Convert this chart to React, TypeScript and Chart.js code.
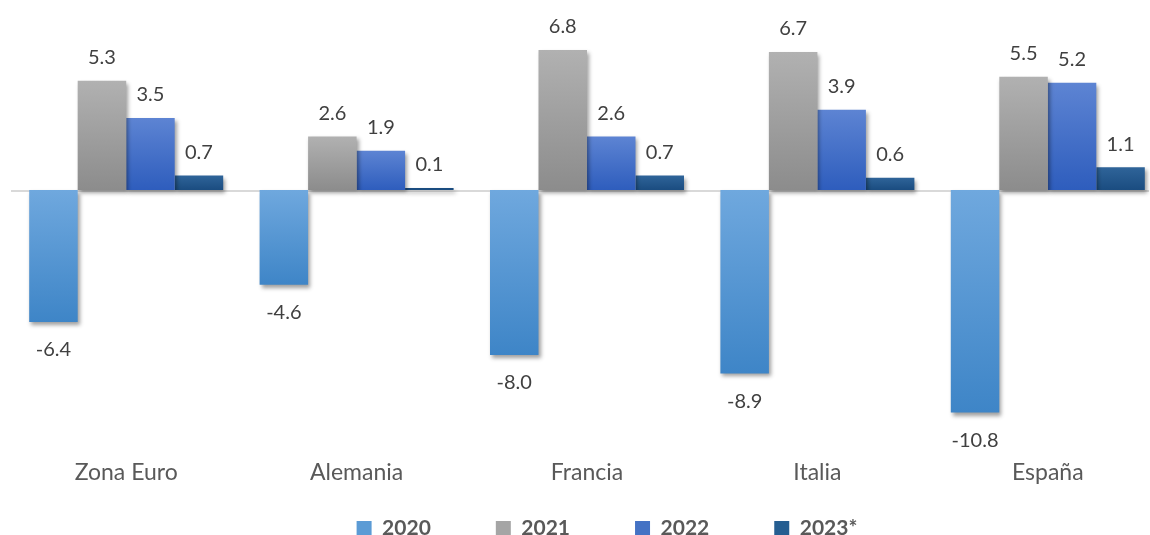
import React, { useEffect, useRef } from 'react';
import { Chart, registerables } from 'chart.js';

Chart.register(...registerables);

// ---- data ----
const categories = ['Zona Euro', 'Alemania', 'Francia', 'Italia', 'España'];
const seriesNames = ['2020', '2021', '2022', '2023*'];
const values2020 = [-6.4, -4.6, -8.0, -8.9, -10.8];
const values2021 = [5.3, 2.6, 6.8, 6.7, 5.5];
const values2022 = [3.5, 1.9, 2.6, 3.9, 5.2];
const values2023 = [0.7, 0.1, 0.7, 0.6, 1.1];
const seriesValues = [values2020, values2021, values2022, values2023];

// ---- styles ----
const legendColors = ['#5B9BD5', '#A5A5A5', '#4472C4', '#255E91'];
const gradTops = ['#6fa8de', '#b1b1b1', '#5d84d3', '#2f6499'];
const gradBottoms = ['#3e85c7', '#8c8c8c', '#2e5dbd', '#1a4c80'];

const CANVAS_W = 1203;
const CANVAS_H = 587;

function gradientFill(idx: number) {
  return (ctx: any) => {
    if (ctx.type !== 'data') return legendColors[idx];
    const chart = ctx.chart;
    const yScale = chart.scales && chart.scales.y;
    if (!chart.chartArea || !yScale) return legendColors[idx];
    const v = ctx.raw as number;
    const y0 = yScale.getPixelForValue(0);
    const y1 = yScale.getPixelForValue(v);
    const t = Math.min(y0, y1);
    const b = Math.max(y0, y1);
    if (b - t < 3) return gradBottoms[idx];
    const g = chart.ctx.createLinearGradient(0, t, 0, b);
    g.addColorStop(0, gradTops[idx]);
    g.addColorStop(1, gradBottoms[idx]);
    return g;
  };
}

const decorPlugin = {
  id: 'decor',
  afterLayout(chart: any) {
    // pull the legend up so it sits just under the category labels
    const lg = chart.legend;
    if (lg) {
      const h = lg.height;
      lg.top = chart.chartArea.bottom + 7;
      lg.bottom = lg.top + h;
    }
  },
  beforeDatasetsDraw(chart: any) {
    const { ctx, chartArea } = chart;
    const y0 = chart.scales.y.getPixelForValue(0);
    ctx.save();
    ctx.strokeStyle = '#d9d9d9';
    ctx.lineWidth = 2;
    ctx.beginPath();
    ctx.moveTo(chartArea.left, y0 + 1);
    ctx.lineTo(chartArea.right - 14, y0 + 1);
    ctx.stroke();
    ctx.restore();
    ctx.save();
    ctx.shadowColor = 'rgba(0,0,0,0.38)';
    ctx.shadowBlur = 4;
    ctx.shadowOffsetX = 2;
    ctx.shadowOffsetY = 3;
  },
  afterDatasetsDraw(chart: any) {
    const { ctx } = chart;
    ctx.restore();
    ctx.save();
    ctx.shadowColor = 'rgba(0,0,0,0)';
    ctx.font = '20px Lato';
    ctx.fillStyle = '#404040';
    ctx.textAlign = 'center';
    ctx.textBaseline = 'alphabetic';
    chart.data.datasets.forEach((ds: any, di: number) => {
      const meta = chart.getDatasetMeta(di);
      meta.data.forEach((bar: any, i: number) => {
        const v = ds.data[i] as number;
        const y = v >= 0 ? bar.y - 16.7 : bar.y + 34.5;
        ctx.fillText(v.toFixed(1), bar.x, y);
      });
    });
    ctx.restore();
  },
};

export default function App() {
  const ref = useRef<HTMLCanvasElement | null>(null);

  useEffect(() => {
    let chart: Chart | null = null;
    let cancelled = false;
    const make = () => {
      if (cancelled || !ref.current) return;
      chart = new Chart(ref.current, {
        type: 'bar',
        data: {
          labels: categories,
          datasets: seriesNames.map((name, i) => ({
            label: name,
            data: seriesValues[i],
            backgroundColor: gradientFill(i) as any,
            borderWidth: 0,
            barPercentage: 1,
            categoryPercentage: 0.842,
          })),
        },
        options: {
          responsive: false,
          animation: false,
          devicePixelRatio: 1,
          layout: { padding: { left: 11, right: 0, top: 0, bottom: 0 } },
          scales: {
            x: {
              grid: { display: false, drawTicks: false },
              border: { display: false },
              ticks: {
                color: '#595959',
                font: { family: 'Lato', size: 23 },
                padding: 13,
                maxRotation: 0,
                autoSkip: false,
              },
              afterFit: (axis: any) => {
                axis.height = 45;
              },
            },
            y: {
              position: 'right',
              min: -12.42,
              max: 9.22,
              grid: { display: false },
              border: { display: false },
              ticks: { display: false },
              afterFit: (axis: any) => {
                axis.width = 40;
              },
            },
          },
          plugins: {
            tooltip: { enabled: false },
            legend: {
              position: 'bottom',
              maxHeight: 100,
              labels: {
                boxWidth: 15,
                boxHeight: 15,
                padding: 65,
                color: '#595959',
                font: { family: 'Lato', size: 21, weight: 'bold' },
                generateLabels: (ch: any) =>
                  ch.data.datasets.map((ds: any, i: number) => ({
                    text: ds.label,
                    fillStyle: legendColors[i],
                    strokeStyle: legendColors[i],
                    lineWidth: 0,
                    hidden: false,
                    datasetIndex: i,
                    fontColor: '#595959',
                  })),
              },
            },
          },
        },
        plugins: [decorPlugin],
      } as any);
    };
    const fontsReady = (document as any).fonts
      ? Promise.all([
          (document as any).fonts.load('20px Lato'),
          (document as any).fonts.load('bold 21px Lato'),
        ]).catch(() => null)
      : Promise.resolve(null);
    fontsReady.then(make);
    return () => {
      cancelled = true;
      if (chart) chart.destroy();
    };
  }, []);

  return (
    <div
      style={{
        position: 'fixed',
        left: 0,
        top: 0,
        width: 1150,
        height: 535,
        overflow: 'hidden',
        background: '#ffffff',
      }}
    >
      <canvas
        ref={ref}
        width={CANVAS_W}
        height={CANVAS_H}
        style={{ display: 'block', width: CANVAS_W, height: CANVAS_H }}
      />
    </div>
  );
}
